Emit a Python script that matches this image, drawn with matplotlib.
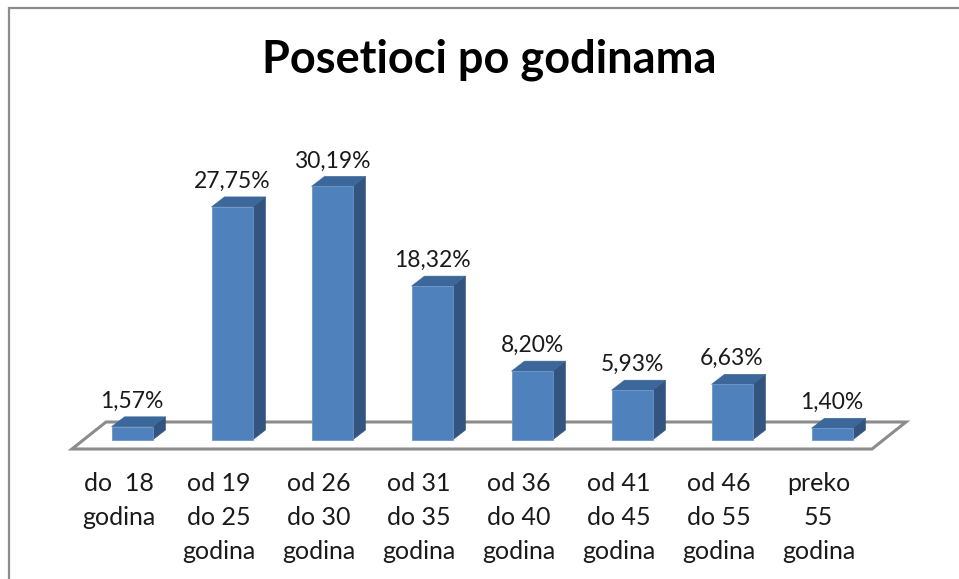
import matplotlib
matplotlib.use("Agg")
import matplotlib.pyplot as plt
from matplotlib.patches import Polygon, Rectangle

categories = ["do  18\ngodina", "od 19\ndo 25\ngodina", "od 26\ndo 30\ngodina",
              "od 31\ndo 35\ngodina", "od 36\ndo 40\ngodina", "od 41\ndo 45\ngodina",
              "od 46\ndo 55\ngodina", "preko\n55\ngodina"]
values = [1.57, 27.75, 30.19, 18.32, 8.20, 5.93, 6.63, 1.40]
value_labels = ["1,57%", "27,75%", "30,19%", "18,32%", "8,20%", "5,93%", "6,63%", "1,40%"]
title = "Posetioci po godinama"

W, H = 959, 579
fig = plt.figure(figsize=(W / 100, H / 100), dpi=100)
fig.patch.set_facecolor("white")

# pixel mapping: x index 0 -> px 132, 100 px per unit; y 0 -> px 440, 8.4 px per %
PX_X0, PX_PER_X = 132, 100.0
PX_Y0, PX_PER_Y = 440, 8.4
ax = fig.add_axes([0, 0, 1, 1])
ax.set_xlim((0 - PX_X0) / PX_PER_X, (W - PX_X0) / PX_PER_X)
ax.set_ylim((PX_Y0 - H) / PX_PER_Y, PX_Y0 / PX_PER_Y)
ax.axis("off")

font = "Lato"
front_c = "#4F81BD"
top_c = "#3C679A"
side_c = "#32547E"

bar_w = 0.41
dx = 0.13
dy = 10 / PX_PER_Y

# floor
n = len(values)
fx0, fx1 = -0.6, n - 1 + 0.4
fy_front = -9 / PX_PER_Y
fdx = 0.34
fy_back = 18 / PX_PER_Y
floor = Polygon([(fx0, fy_front), (fx1, fy_front), (fx1 + fdx, fy_back), (fx0 + fdx, fy_back)],
                closed=True, facecolor="white", edgecolor="#8C8C8C", linewidth=2.2, zorder=1)
ax.add_patch(floor)

xs = list(range(n))
bars = ax.bar(xs, values, width=bar_w, color=front_c, edgecolor="#6E95C6", linewidth=0.6, zorder=3)
for b in bars:
    x0 = b.get_x()
    x1 = x0 + b.get_width()
    h = b.get_height()
    ax.add_patch(Polygon([(x1, 0), (x1 + dx, dy), (x1 + dx, h + dy), (x1, h)], closed=True,
                         facecolor=side_c, edgecolor=side_c, linewidth=0.4, zorder=2))
    ax.add_patch(Polygon([(x0, h), (x1, h), (x1 + dx, h + dy), (x0 + dx, h + dy)], closed=True,
                         facecolor=top_c, edgecolor=top_c, linewidth=0.4, zorder=2))

for x, v, lab in zip(xs, values, value_labels):
    ax.text(x, v + 19 / PX_PER_Y, lab, ha="center", va="baseline", fontsize=16.5,
            family=font, color="#1a1a1a", zorder=4)

for x, cat in zip(xs, categories):
    ax.text(x - 0.135, (PX_Y0 - 472) / PX_PER_Y, cat, ha="center", va="top", fontsize=18,
            family=font, color="#1a1a1a", linespacing=1.58)

fig.text(489 / W, 1 - 60 / H, title, ha="center", va="center", fontsize=32.5,
         family=font, fontweight="bold", color="black")

# outer chart border
fig.add_artist(Rectangle((8.5 / W, -0.05), 1.2, 1 - 8 / H + 0.05, transform=fig.transFigure,
                         facecolor="none", edgecolor="#8C8C8C", linewidth=1.6))

fig.savefig("out.png", dpi=100, facecolor="white")
